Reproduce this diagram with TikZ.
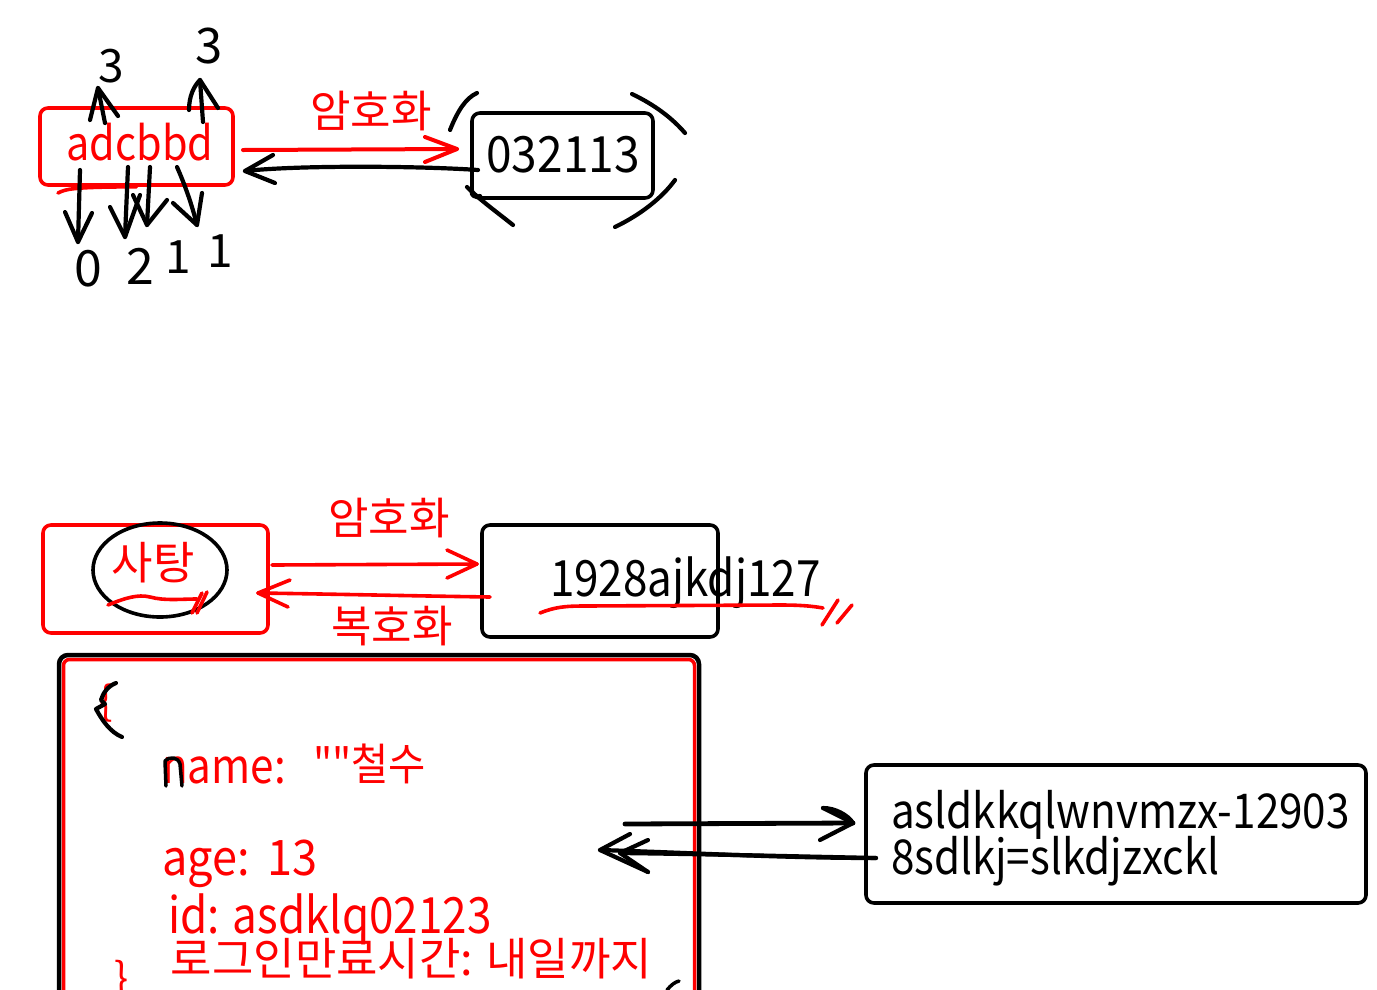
\documentclass[tikz,border=0pt]{standalone}
\usepackage{fontspec}
\setmainfont{Noto Sans CJK KR}
\newfontfamily\latn[FakeStretch=0.88]{Noto Sans CJK KR}
\newfontfamily\latm[FakeStretch=0.92]{Noto Sans CJK KR}
\usetikzlibrary{shapes.geometric}
\newcommand{\fsz}[1]{\fontsize{#1}{#1}\selectfont}
\begin{document}
\begin{tikzpicture}[x=1pt,y=-1pt,
  txt/.style={inner sep=0pt, outer sep=0pt},
  redtxt/.style={txt, text=red},
  blktxt/.style={txt, text=black},
  pen/.style={line width=4.2pt, line cap=round, line join=round},
  blkpen/.style={pen, draw=black},
  redpen/.style={pen, draw=red, line width=3.6pt},
  redbox/.style={draw=red, line width=3.6pt, rounded corners=8pt, inner sep=0pt},
  blkbox/.style={draw=black, line width=3.6pt, rounded corners=8pt, inner sep=0pt}
]
\useasboundingbox (0,0) rectangle (1377,989);
\clip (0,0) rectangle (1377,989);

% ---------------- top part ----------------
\node[redbox, minimum width=193pt, minimum height=77pt] (boxA) at (136.5,146.5) {};
\node[redtxt, font=\latn\fsz{47}] (tA) at (140,142.5) {adcbbd};
\draw[redpen] (58,193) .. controls (66,189) and (72,187) .. (boxA.south);

\node[blkbox, minimum width=181pt, minimum height=85pt] (boxB) at (562.5,155.5) {};
\node[blktxt, font=\latm\fsz{50}] (tB) at (563,155) {032113};

% digits around adcbbd
\node[blktxt, font=\fsz{46}] (u1) at (111.5,66) {3};
\node[blktxt, font=\fsz{49}] (u2) at (209.5,46) {3};
\node[blktxt, font=\fsz{50}] (d1) at (88,269) {0};
\node[blktxt, font=\fsz{50}] (d2) at (140,266) {2};
\node[blktxt, font=\fsz{46}] (d3) at (178,257) {1};
\node[blktxt, font=\fsz{46}] (d4) at (220,251) {1};

% up arrows
\draw[blkpen] (105,123) -- (98,88);
\draw[blkpen] (90,120) -- (98,88) -- (118,116);
\draw[blkpen] (203,122) -- (200,80);
\draw[blkpen] (189,110) .. controls (189,96) and (194,86) .. (200,80) -- (218,108);
% down arrows
\draw[blkpen] (80,170) -- (78,242);
\draw[blkpen] (65,212) -- (78,242) -- (92,213);
\draw[blkpen] (128,167) -- (125,237);
\draw[blkpen] (110,207) -- (125,237) -- (140,195);
\draw[blkpen] (150,167) -- (147,225);
\draw[blkpen] (133,195) -- (147,225) -- (167,200);
\draw[blkpen] (177,167) .. controls (185,185) and (192,205) .. (197,225);
\draw[blkpen] (173,203) -- (197,225) -- (202,193);

% arrows between boxA and boxB
\coordinate (e1s) at (243,150);
\coordinate (e1t) at (457,149);
\draw[redpen, line width=4pt] (e1s) -- (e1t);
\draw[redpen, line width=4pt] (425,137) -- (e1t) -- (425,162);
\node[redtxt, font=\fsz{44}] (enc1) at (371,111.5) {암호화};

\coordinate (r1s) at (478,170);
\coordinate (r1t) at (245,171);
\draw[blkpen] (r1s) .. controls (420,166) and (300,165) .. (r1t);
\draw[blkpen] (273,155) -- (r1t) -- (275,183);

% bracket strokes round 032113
\draw[blkpen] (450,130) .. controls (458,110) and (466,98) .. (477,93);
\draw[blkpen] (632,94) .. controls (655,105) and (672,118) .. (685,133);
\draw[blkpen] (467,187) .. controls (480,200) and (498,213) .. (513,225);
\draw[blkpen] (472,190) .. controls (470,196) and (476,198) .. (480,196);
\draw[blkpen] (615,227) .. controls (640,215) and (662,198) .. (675,180);

% ---------------- bottom part ----------------
\node[redbox, minimum width=225pt, minimum height=108pt] (boxC) at (155.5,579) {};
\node[draw=black, line width=3.6pt, ellipse, minimum width=134pt, minimum height=94pt, inner sep=0pt] (ell) at (160,570) {};
\node[redtxt, font=\fsz{45}] (candy) at (153,563) {사탕};
\draw[redpen] (108,605) .. controls (125,598) and (138,594) .. (150,597) .. controls (165,601) and (180,599) .. (197,599);
\draw[redpen] (192,613) -- (202,593);
\draw[redpen] (197,613) -- (207,592);

\node[blkbox, minimum width=236pt, minimum height=112pt] (boxD) at (600,581) {};
\node[blktxt, font=\latn\fsz{50}, anchor=base west] (tD) at (550,596) {1928ajkdj127};
\draw[redpen] (540,613) .. controls (555,607) and (565,606) .. (585,606) -- (780,605) .. controls (800,605) and (812,606) .. (823,608);
\draw[redpen] (822,625) -- (838,600);
\draw[redpen] (837,623) -- (852,605);

\coordinate (e2s) at (272,565);
\coordinate (e2t) at (477,564);
\draw[redpen] (e2s) -- (e2t);
\draw[redpen] (447,550) -- (e2t) -- (447,578);
\node[redtxt, font=\fsz{44}] (enc2) at (389,518.5) {암호화};

\coordinate (d2s) at (490,597);
\coordinate (d2t) at (258,593);
\draw[redpen] (d2s) .. controls (420,596) and (330,594) .. (d2t);
\draw[redpen] (290,580) -- (d2t) -- (288,607);
\node[redtxt, font=\fsz{44}] (dec2) at (392,626) {복호화};

% big data box
\draw[draw=black, line width=4.5pt, rounded corners=9pt] (59,1030) -- (59,655) -- (699,655) -- (699,1030);
\draw[draw=red, line width=3.5pt, rounded corners=6pt] (63.5,1030) -- (63.5,659.5) -- (694.5,659.5) -- (694.5,1030);

\node[redtxt, font=\fsz{40}] (lbr) at (106,703) {\{};
\draw[blkpen] (116,683) .. controls (108,686) and (103,693) .. (101,700) -- (105,704) -- (96,709) .. controls (102,720) and (110,732) .. (122,737);

\node[redtxt, font=\latn\fsz{48}, anchor=base west] (nm) at (162,783) {name:};
\node[redtxt, font=\latm\fsz{44}, anchor=base west] (nmv) at (313,780) {""철수};
\draw[blkpen, line width=3.5pt] (166,786) -- (165,761) .. controls (170,756) and (178,757) .. (180,764) -- (182,786);

\node[redtxt, font=\latm\fsz{49}, anchor=base west] (ag) at (162,875) {age:};
\node[redtxt, font=\latm\fsz{49}, anchor=base west] (agv) at (267,875) {13};
\node[redtxt, font=\latn\fsz{50}, anchor=base west] (idl) at (168,933) {id: asdklq02123};
\node[redtxt, font=\fsz{45}] (login) at (411.5,959) {로그인만료시간: 내일까지};
\node[redtxt, font=\fsz{42}] (rbr) at (122,980) {\}};
\draw[blkpen, line width=3.5pt] (667,990) .. controls (671,985) and (675,982) .. (679,981);

% token box
\node[blkbox, minimum width=500pt, minimum height=138pt] (boxE) at (1116,834) {};
\node[blktxt, font=\latn\fsz{48}, anchor=base west] (t1) at (891,828) {asldkkqlwnvmzx-12903};
\node[blktxt, font=\latn\fsz{48}, anchor=base west] (t2) at (891,874) {8sdlkj=slkdjzxckl};

\coordinate (e3s) at (625,824);
\coordinate (e3t) at (853,823);
\draw[blkpen, line width=4.8pt] (e3s) -- (e3t);
\draw[blkpen] (823,808) -- (e3t) -- (820,840);
\draw[blkpen] (823,808) .. controls (835,808) and (848,815) .. (e3t);

\coordinate (r3s) at (876,858);
\coordinate (r3t) at (600,850);
\coordinate (r3u) at (620,853);
\draw[blkpen] (r3s) .. controls (780,858) and (700,853) .. (r3t);
\draw[blkpen] (r3s) .. controls (780,856) and (700,854) .. (r3u);
\draw[blkpen] (630,834) -- (r3t) -- (648,872);
\draw[blkpen] (648,840) -- (r3u) -- (648,872);
\end{tikzpicture}
\end{document}
